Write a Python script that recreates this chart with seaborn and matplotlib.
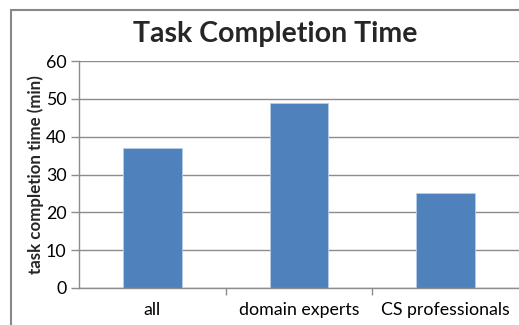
import matplotlib
matplotlib.use('Agg')
import matplotlib.pyplot as plt
import seaborn as sns
import pandas as pd
from matplotlib.lines import Line2D

# Data
groups = ['all', 'domain experts', 'CS professionals']
minutes = [37, 49, 25]
y_ticks = [0, 10, 20, 30, 40, 50, 60]

sns.set_style('white')
plt.rcParams['font.family'] = ['Lato', 'DejaVu Sans']

df = pd.DataFrame({'group': groups, 'minutes': minutes})

fig = plt.figure(figsize=(5.19, 3.25), dpi=100)
ax = fig.add_axes([79 / 519, 1 - 288 / 325, 440 / 519, 227 / 325])

sns.barplot(data=df, x='group', y='minutes', order=groups, color='#4F81BD',
            saturation=1, width=0.4, edgecolor='#B9CDE5', linewidth=0.6, ax=ax)

ax.set_ylim(0, 60)
ax.set_xlim(-0.5, 2.5)
ax.set_yticks(y_ticks)
ax.yaxis.grid(True, color='#8C8C8C', linewidth=1)
ax.xaxis.grid(False)
ax.set_axisbelow(True)

# category boundary ticks like Excel
ax.set_xticks([0.5, 1.5], minor=True)
ax.tick_params(axis='x', which='major', bottom=False, length=0, pad=10,
               labelsize=12.8, colors='black')
ax.tick_params(axis='x', which='minor', bottom=True, length=5, color='#8C8C8C',
               width=1, direction='out')
ax.tick_params(axis='y', left=True, length=6, color='#8C8C8C', width=1, direction='out',
               labelsize=12.8, pad=3, labelcolor='black')

for side in ['top', 'right']:
    ax.spines[side].set_visible(False)
for side in ['left', 'bottom']:
    ax.spines[side].set_color('#8C8C8C')
    ax.spines[side].set_linewidth(1)

ax.set_xlabel('')
ax.set_ylabel('task completion time (min)', fontsize=12.2, fontweight='bold', labelpad=1)
fig.text(275 / 519, 1 - 34 / 325, 'Task Completion Time', ha='center', va='center',
         fontsize=20.5, fontweight='bold')

# chart border (cropped on right and bottom)
bx, by = 10.5 / 519, 1 - 9.5 / 325
fig.add_artist(Line2D([bx, bx], [0, by], transform=fig.transFigure,
                      color='#888888', linewidth=1.5))
fig.add_artist(Line2D([bx, 1], [by, by], transform=fig.transFigure,
                      color='#888888', linewidth=1.5))

fig.savefig('out.png', dpi=100)
